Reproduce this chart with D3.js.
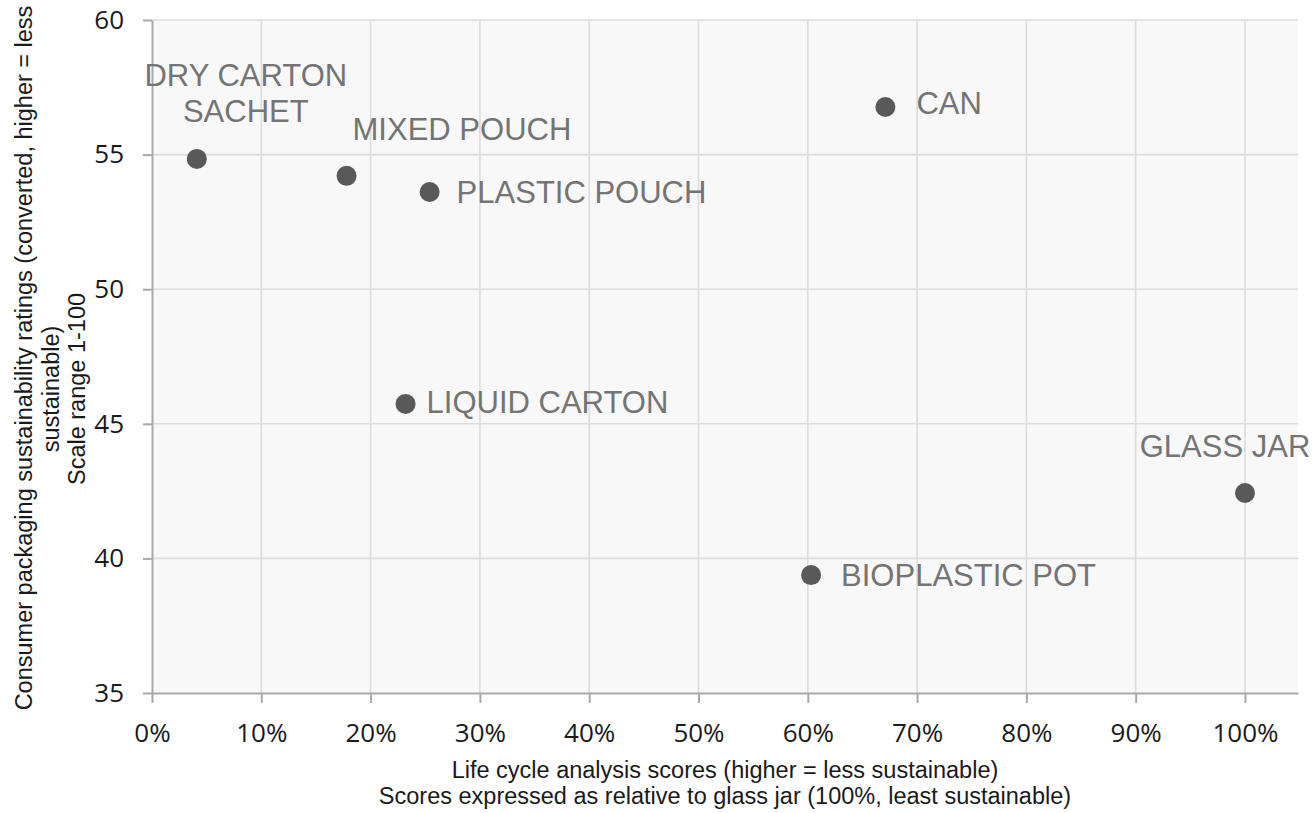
<!DOCTYPE html>
<html>
<head>
<meta charset="utf-8">
<script src="https://cdn.jsdelivr.net/npm/d3@7/dist/d3.min.js"></script>
<style>
  html, body { margin: 0; padding: 0; background: #ffffff; }
  svg { display: block; }
</style>
</head>
<body>
<svg id="chart" width="1316" height="813"></svg>
<script>
// ---- data ----
const categories = ["DRY CARTON SACHET", "MIXED POUCH", "PLASTIC POUCH", "CAN", "LIQUID CARTON", "BIOPLASTIC POT", "GLASS JAR"];
const lcaScores = [0.041, 0.178, 0.254, 0.671, 0.232, 0.603, 1.0];
const consumerRatings = [54.84, 54.21, 53.61, 56.77, 45.74, 39.38, 42.43];
const xTickValues = [0, 0.1, 0.2, 0.3, 0.4, 0.5, 0.6, 0.7, 0.8, 0.9, 1.0];
const yTickValues = [35, 40, 45, 50, 55, 60];
const xTitleLines = ["Life cycle analysis scores (higher = less sustainable)", "Scores expressed as relative to glass jar (100%, least sustainable)"];
const yTitleLines = ["Consumer packaging sustainability ratings (converted, higher = less", "sustainable)", "Scale range 1-100"];

// label layout (pixel offsets from each point)
const labelLayout = [
  { lines: ["DRY CARTON", "SACHET"], anchor: "middle", dx: 49, dy: -73, lh: 36 },
  { lines: ["MIXED POUCH"], anchor: "start", dx: 6, dy: -36, lh: 0 },
  { lines: ["PLASTIC POUCH"], anchor: "start", dx: 27, dy: 11, lh: 0 },
  { lines: ["CAN"], anchor: "start", dx: 31, dy: 7, lh: 0 },
  { lines: ["LIQUID CARTON"], anchor: "start", dx: 21, dy: 9, lh: 0 },
  { lines: ["BIOPLASTIC POT"], anchor: "start", dx: 30, dy: 11, lh: 0 },
  { lines: ["GLASS JAR"], anchor: "middle", dx: -20, dy: -36, lh: 0 }
];

const points = categories.map((c, i) => ({ name: c, x: lcaScores[i], y: consumerRatings[i], layout: labelLayout[i] }));

// ---- layout ----
const pLeft = 152, pRight = 1298, pTop = 20, pBottom = 693;
const svg = d3.select("#chart");

const x0 = d3.scaleLinear().domain([0, 1]).range([pLeft, pLeft + 1093]);
const xMax = x0.invert(pRight);
const x = d3.scaleLinear().domain([0, xMax]).range([pLeft, pRight]);
const y = d3.scaleLinear().domain([35, 60]).range([pBottom, pTop]);

// plot background
svg.append("rect")
  .attr("x", pLeft).attr("y", pTop)
  .attr("width", pRight - pLeft).attr("height", pBottom - pTop)
  .attr("fill", "#f8f8f8");

// gridlines
svg.append("g").selectAll("line")
  .data(xTickValues.filter(d => d > 0))
  .join("line")
  .attr("x1", d => x(d)).attr("x2", d => x(d))
  .attr("y1", pTop).attr("y2", pBottom)
  .attr("stroke", "#dcdcdc").attr("stroke-width", 1.6);

svg.append("g").selectAll("line")
  .data(yTickValues.filter(d => d > 35))
  .join("line")
  .attr("x1", pLeft).attr("x2", pRight)
  .attr("y1", d => y(d)).attr("y2", d => y(d))
  .attr("stroke", "#dcdcdc").attr("stroke-width", 1.6);

// axes
const xAxis = d3.axisBottom(x)
  .tickValues(xTickValues)
  .tickFormat(d3.format(".0%"))
  .tickSizeInner(10).tickSizeOuter(0).tickPadding(21);
const gx = svg.append("g").attr("transform", `translate(0,${pBottom})`).call(xAxis);
gx.select(".domain").attr("stroke", "#a9a9a9").attr("stroke-width", 2);
gx.selectAll(".tick line").attr("stroke", "#a9a9a9").attr("stroke-width", 2);
gx.selectAll(".tick text")
  .attr("fill", "#1a1a1a")
  .style("font-family", "'Open Sans', 'Noto Sans', sans-serif")
  .style("font-size", "26px");

const yAxis = d3.axisLeft(y)
  .tickValues(yTickValues)
  .tickSizeInner(9).tickSizeOuter(0).tickPadding(19);
const gy = svg.append("g").attr("transform", `translate(${pLeft},0)`).call(yAxis);
gy.select(".domain").attr("stroke", "#a9a9a9").attr("stroke-width", 2);
gy.selectAll(".tick line").attr("stroke", "#a9a9a9").attr("stroke-width", 2);
gy.selectAll(".tick text")
  .attr("fill", "#1a1a1a")
  .style("font-family", "'Open Sans', 'Noto Sans', sans-serif")
  .style("font-size", "26px");

// points
svg.append("g").selectAll("circle")
  .data(points)
  .join("circle")
  .attr("cx", d => x(d.x))
  .attr("cy", d => y(d.y))
  .attr("r", 10)
  .attr("fill", "#595959");

// labels
const lbl = svg.append("g").selectAll("text")
  .data(points)
  .join("text")
  .attr("x", d => x(d.x) + d.layout.dx)
  .attr("y", d => y(d.y) + d.layout.dy)
  .attr("text-anchor", d => d.layout.anchor)
  .attr("fill", "#747474")
  .style("font-family", "'Liberation Sans', Arial, sans-serif")
  .style("font-size", "31px");
lbl.each(function(d) {
  const t = d3.select(this);
  d.layout.lines.forEach((ln, i) => {
    t.append("tspan")
      .attr("x", x(d.x) + d.layout.dx)
      .attr("dy", i === 0 ? 0 : d.layout.lh)
      .text(ln);
  });
});

// x axis title
const cxTitle = (pLeft + pRight) / 2;
svg.append("g").selectAll("text")
  .data(xTitleLines)
  .join("text")
  .attr("x", cxTitle)
  .attr("y", (d, i) => 778 + i * 26)
  .attr("text-anchor", "middle")
  .attr("fill", "#1a1a1a")
  .style("font-family", "'Liberation Sans', Arial, sans-serif")
  .style("font-size", "23.5px")
  .text(d => d);

// y axis title
const yTitleX = [32, 59, 85];
const yTitleC = [358, 389, 389];
svg.append("g").selectAll("text")
  .data(yTitleLines)
  .join("text")
  .attr("transform", (d, i) => `translate(${yTitleX[i]},${yTitleC[i]}) rotate(-90)`)
  .attr("text-anchor", "middle")
  .attr("fill", "#1a1a1a")
  .style("font-family", "'Liberation Sans', Arial, sans-serif")
  .style("font-size", "23.5px")
  .text(d => d);
</script>
</body>
</html>
